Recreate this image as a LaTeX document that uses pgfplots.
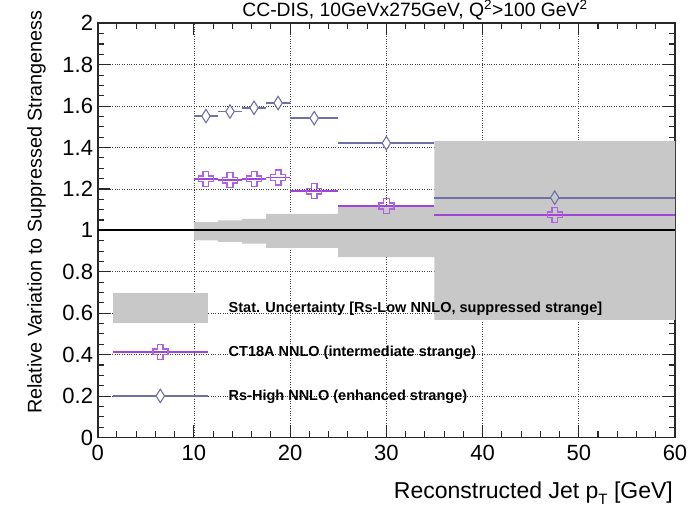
\documentclass[border=0pt]{standalone}
\usepackage{pgfplots}
\pgfplotsset{compat=1.18}
\usepackage{fontspec}
\setmainfont{Liberation Sans}
\definecolor{bandgray}{RGB}{200,200,200}
\definecolor{ctcol}{RGB}{160,70,215}
\definecolor{rscol}{RGB}{112,112,165}
\definecolor{framecol}{RGB}{40,40,40}
% open cross (plus outline)
\pgfdeclareplotmark{ocross}{%
  \pgfpathmoveto{\pgfqpoint{-0.38\pgfplotmarksize}{\pgfplotmarksize}}%
  \pgfpathlineto{\pgfqpoint{0.38\pgfplotmarksize}{\pgfplotmarksize}}%
  \pgfpathlineto{\pgfqpoint{0.38\pgfplotmarksize}{0.38\pgfplotmarksize}}%
  \pgfpathlineto{\pgfqpoint{\pgfplotmarksize}{0.38\pgfplotmarksize}}%
  \pgfpathlineto{\pgfqpoint{\pgfplotmarksize}{-0.38\pgfplotmarksize}}%
  \pgfpathlineto{\pgfqpoint{0.38\pgfplotmarksize}{-0.38\pgfplotmarksize}}%
  \pgfpathlineto{\pgfqpoint{0.38\pgfplotmarksize}{-\pgfplotmarksize}}%
  \pgfpathlineto{\pgfqpoint{-0.38\pgfplotmarksize}{-\pgfplotmarksize}}%
  \pgfpathlineto{\pgfqpoint{-0.38\pgfplotmarksize}{-0.38\pgfplotmarksize}}%
  \pgfpathlineto{\pgfqpoint{-\pgfplotmarksize}{-0.38\pgfplotmarksize}}%
  \pgfpathlineto{\pgfqpoint{-\pgfplotmarksize}{0.38\pgfplotmarksize}}%
  \pgfpathlineto{\pgfqpoint{-0.38\pgfplotmarksize}{0.38\pgfplotmarksize}}%
  \pgfpathclose\pgfusepathqstroke}
% tall open diamond, filled
\pgfdeclareplotmark{tdiamond}{%
  \pgfpathmoveto{\pgfqpoint{0pt}{\pgfplotmarksize}}%
  \pgfpathlineto{\pgfqpoint{0.63\pgfplotmarksize}{0pt}}%
  \pgfpathlineto{\pgfqpoint{0pt}{-\pgfplotmarksize}}%
  \pgfpathlineto{\pgfqpoint{-0.63\pgfplotmarksize}{0pt}}%
  \pgfpathclose\pgfusepathqfillstroke}
\begin{document}
\begin{tikzpicture}
\useasboundingbox (0,0) rectangle (691pt,513pt);
\begin{axis}[
  at={(97.7pt,75.5pt)}, anchor=south west,
  scale only axis, width=577.3pt, height=414.2pt,
  xmin=0, xmax=60, ymin=0, ymax=2,
  xtick={0,10,20,30,40,50,60},
  ytick={0,0.2,0.4,0.6,0.8,1,1.2,1.4,1.6,1.8,2},
  minor x tick num=4, minor y tick num=3,
  tick align=inside, tick pos=both,
  major tick length=12pt, minor tick length=6pt,
  every tick/.style={framecol, line width=1.1pt},
  axis line style={framecol, line width=1.6pt},
  grid=major,
  major grid style={black!75, dotted, line width=0.7pt},
  /pgf/number format/assume math mode=true,
  ticklabel style={font=\fontsize{22}{22}\selectfont},
  xticklabel style={inner sep=0pt, yshift=-7.5pt},
  yticklabel style={inner sep=0pt, xshift=-4.5pt},
  xlabel={Reconstructed Jet p\raisebox{-0.5ex}{\fontsize{15}{15}\selectfont T} [GeV]},
  xlabel style={at={(axis description cs:0.9966,-0.1075)}, anchor=north east, inner sep=0pt, font=\fontsize{23}{23}\selectfont},
  ylabel={Relative Variation to Suppressed Strangeness},
  ylabel style={at={(axis description cs:-0.1225,1.032)}, anchor=north east, inner sep=0pt, font=\fontsize{19.8}{19.8}\selectfont},
  clip mode=individual,
  legend style={at={(axis cs:1.455,0.699)}, anchor=north west, draw=none, fill=none,
    inner sep=0pt, row sep=14pt, column sep=20pt, nodes={inner sep=0pt},
    font=\bfseries\fontsize{14.5}{14.5}\selectfont},
  legend cell align=left,
]
% statistical uncertainty band (Rs-Low NNLO)
\addplot[fill=bandgray, draw=none, forget plot] coordinates {
  (10,0.952) (10,1.040) (12.5,1.040) (12.5,1.048) (15,1.048) (15,1.056)
  (17.5,1.056) (17.5,1.080) (20,1.080) (25,1.080) (25,1.121) (35,1.121)
  (35,1.432) (60,1.432) (60,0.568) (35,0.568) (35,0.871) (25,0.871)
  (25,0.916) (20,0.916) (17.5,0.916) (17.5,0.936) (15,0.936) (15,0.944)
  (12.5,0.944) (12.5,0.952)} --cycle;
% reference line
\addplot[black, line width=2pt, forget plot] coordinates {(0,1) (60,1)};
% CT18A NNLO
\addplot[forget plot, draw=none, mark=none,
  error bars/.cd, x dir=both, x explicit, error mark=none,
  error bar style={ctcol, line width=1.8pt}] coordinates {
  (11.25,1.249) +- (1.25,0)
  (13.75,1.242) +- (1.25,0)
  (16.25,1.249) +- (1.25,0)
  (18.75,1.255) +- (1.25,0)
  (22.5,1.189) +- (2.5,0)
  (30,1.118) +- (5,0)
  (47.5,1.075) +- (12.5,0)};
\addplot[forget plot, only marks, mark=ocross, mark size=7.5pt,
  mark options={draw=ctcol!85!white, line width=1.4pt}] coordinates {
  (11.25,1.249) (13.75,1.242) (16.25,1.249) (18.75,1.255)
  (22.5,1.189) (30,1.118) (47.5,1.075)};
% Rs-High NNLO
\addplot[forget plot, draw=none, mark=none,
  error bars/.cd, x dir=both, x explicit, error mark=none,
  error bar style={rscol, line width=1.8pt}] coordinates {
  (11.25,1.552) +- (1.25,0)
  (13.75,1.574) +- (1.25,0)
  (16.25,1.592) +- (1.25,0)
  (18.75,1.615) +- (1.25,0)
  (22.5,1.542) +- (2.5,0)
  (30,1.421) +- (5,0)
  (47.5,1.158) +- (12.5,0)};
\addplot[forget plot, only marks, mark=tdiamond, mark size=6.7pt,
  mark options={draw=rscol, fill=white, line width=1.1pt}] coordinates {
  (11.25,1.552) (13.75,1.574) (16.25,1.592) (18.75,1.615)
  (22.5,1.542) (30,1.421)};
\addplot[forget plot, only marks, mark=tdiamond, mark size=6.7pt,
  mark options={draw=rscol, fill=bandgray, line width=1.1pt}] coordinates {
  (47.5,1.158)};
% legend
\addlegendimage{legend image code/.code={
  \path[draw=none, fill=none] (0pt,-15pt) rectangle (95pt,15pt);
  \fill[bandgray, draw=none] (0pt,-15pt) rectangle (95pt,15pt);}}
\addlegendentry{Stat. Uncertainty [Rs-Low NNLO, suppressed strange]}
\addlegendimage{legend image code/.code={
  \path[draw=none, fill=none] (0pt,-15pt) rectangle (95pt,15pt);
  \draw[ctcol, line width=1.8pt] (0pt,0pt) -- (95pt,0pt);
  \draw[mark=ocross, mark size=7.5pt, mark options={draw=ctcol!85!white, fill=none, line width=1.4pt}] plot coordinates {(47.5pt,0pt)};}}
\addlegendentry{CT18A NNLO (intermediate strange)}
\addlegendimage{legend image code/.code={
  \path[draw=none, fill=none] (0pt,-15pt) rectangle (95pt,15pt);
  \draw[rscol, line width=1.8pt] (0pt,0pt) -- (95pt,0pt);
  \draw[mark=tdiamond, mark size=6.7pt, mark options={draw=rscol, fill=white, line width=1.1pt}] plot coordinates {(47.5pt,0pt)};}}
\addlegendentry{Rs-High NNLO (enhanced strange)}
% title
\node[anchor=base, inner sep=0pt, font=\fontsize{19.3}{19.3}\selectfont]
  at (axis description cs:0.5496,1.0152)
  {CC-DIS, 10GeVx275GeV, Q\textsuperscript{2}>100 GeV\textsuperscript{2}};
\end{axis}
\end{tikzpicture}
\end{document}
